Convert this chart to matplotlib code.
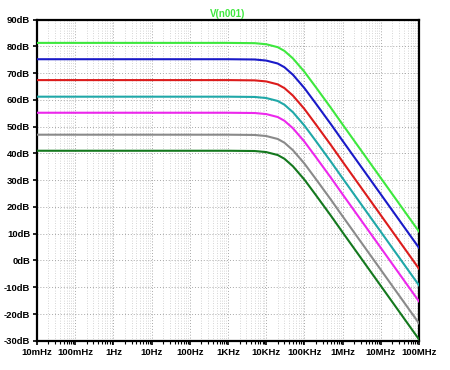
import numpy as np
import matplotlib
matplotlib.use('Agg')
import matplotlib.pyplot as plt
from matplotlib.ticker import LogLocator, NullFormatter, FixedLocator

plt.rcParams['font.family'] = ['Liberation Sans', 'DejaVu Sans']

# frequency points (Hz)
freq = [1e-2, 1e3, 5e3, 1e4, 2e4, 3e4, 5e4, 1e5, 2e5, 5e5, 1e6, 1e7, 1e8]

# magnitude in dB for each trace
gain_green = [81.3, 81.3, 81.2, 80.8, 79.7, 78.3, 75.5, 70.5, 64.7, 56.9, 50.8, 30.8, 10.8]
gain_blue = [75.2, 75.2, 75.1, 74.7, 73.6, 72.2, 69.4, 64.4, 58.6, 50.8, 44.7, 24.7, 4.7]
gain_red = [67.4, 67.4, 67.3, 66.9, 65.8, 64.4, 61.6, 56.6, 50.8, 43.0, 36.9, 16.9, -3.1]
gain_cyan = [61.2, 61.2, 61.1, 60.7, 59.6, 58.2, 55.4, 50.4, 44.6, 36.8, 30.7, 10.7, -9.3]
gain_magenta = [55.2, 55.2, 55.1, 54.7, 53.6, 52.2, 49.4, 44.4, 38.6, 30.8, 24.7, 4.7, -15.3]
gain_gray = [47.0, 47.0, 46.9, 46.5, 45.4, 44.0, 41.2, 36.2, 30.4, 22.6, 16.5, -3.5, -23.5]
gain_dkgreen = [41.0, 41.0, 40.9, 40.5, 39.4, 38.0, 35.2, 30.2, 24.4, 16.6, 10.5, -9.5, -29.5]

x_ticks = [1e-2, 1e-1, 1, 1e1, 1e2, 1e3, 1e4, 1e5, 1e6, 1e7, 1e8]
x_labels = ['10mHz', '100mHz', '1Hz', '10Hz', '100Hz', '1KHz', '10KHz',
            '100KHz', '1MHz', '10MHz', '100MHz']
y_ticks = [90, 80, 70, 60, 50, 40, 30, 20, 10, 0, -10, -20, -30]
y_labels = [f'{v}dB' for v in y_ticks]

traces = [
    (gain_green, '#3ee83e'),
    (gain_blue, '#1a1ac8'),
    (gain_red, '#dc1c1c'),
    (gain_cyan, '#20a8a8'),
    (gain_magenta, '#ec28ec'),
    (gain_gray, '#8a8a8a'),
    (gain_dkgreen, '#14781e'),
]

fig = plt.figure(figsize=(4.5, 3.7), dpi=100)
ax = fig.add_axes([0.0822, 0.079, 0.849, 0.868])

for g, c in traces:
    ax.plot(freq, g, color=c, lw=1.5, zorder=3)

ax.set_xscale('log')
ax.set_xlim(1e-2, 1e8)
ax.set_ylim(-30, 90)

ax.xaxis.set_major_locator(FixedLocator(x_ticks))
ax.set_xticklabels(x_labels)
ax.xaxis.set_minor_locator(LogLocator(base=10, subs=np.arange(2, 10), numticks=100))
ax.xaxis.set_minor_formatter(NullFormatter())
ax.set_yticks(y_ticks)
ax.set_yticklabels(y_labels)

ax.grid(which='major', axis='both', color='#a8a8a8', ls=(0, (1, 2)), lw=0.7)
ax.grid(which='minor', axis='x', color='#c8c8c8', ls=(0, (1, 2)), lw=0.6)

for lab in ax.get_xticklabels() + ax.get_yticklabels():
    lab.set_fontsize(6.8)
    lab.set_fontweight('bold')

ax.tick_params(axis='both', which='major', direction='out', length=3, width=1.2,
               pad=2, color='black')
ax.tick_params(axis='x', which='minor', direction='out', length=2, width=0.8)
ax.tick_params(axis='y', which='minor', left=False)

for s in ax.spines.values():
    s.set_color('black')
    s.set_linewidth(1.6)

ax.set_title('V(n001)', color='#3ee83e', fontsize=7, fontweight='bold', pad=2)

fig.savefig('out.png', dpi=100)
